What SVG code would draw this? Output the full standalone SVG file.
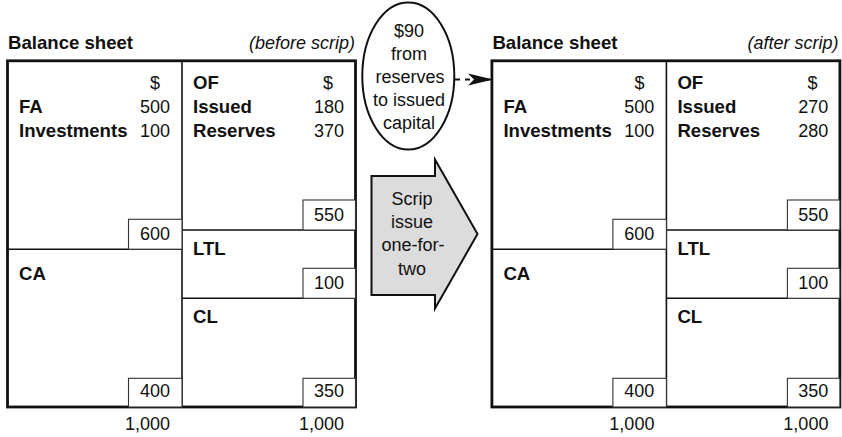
<svg xmlns="http://www.w3.org/2000/svg" width="842" height="437" viewBox="0 0 842 437">
<style>
text{font-family:"Liberation Sans",Arial,Helvetica,sans-serif;font-size:18px;fill:#111}
.b{font-weight:bold;font-size:18.6px}
.i{font-style:italic}
.r{text-anchor:end}
.m{text-anchor:middle}
.outer{fill:#fff;stroke:#111;stroke-width:2.8}
.div{stroke:#111;stroke-width:1.6;fill:none}
.box{fill:#fff;stroke:#333;stroke-width:1.1}
.conn{stroke:#111;stroke-width:2;fill:none;stroke-dasharray:5 5}
</style>
<defs>
<marker id="ah" markerUnits="userSpaceOnUse" markerWidth="26" markerHeight="14" refX="25" refY="7" orient="auto">
<path d="M0,1 L25,7 L0,13 L6,7 z" fill="#111"/>
</marker>
<g id="sheet">
<rect class="outer" x="7.5" y="60.8" width="348" height="346.2"/>
<line class="div" x1="182" y1="60.8" x2="182" y2="407"/>
<line class="div" x1="7.5" y1="249.2" x2="182" y2="249.2"/>
<line class="div" x1="182" y1="230" x2="355.5" y2="230"/>
<line class="div" x1="182" y1="298.3" x2="355.5" y2="298.3"/>
<rect class="box" x="128.5" y="219.3" width="53.5" height="29.9"/>
<rect class="box" x="303" y="200" width="52.5" height="30"/>
<rect class="box" x="303" y="268.3" width="52.5" height="30"/>
<rect class="box" x="128.5" y="378.3" width="53.5" height="28.7"/>
<rect class="box" x="303" y="378.3" width="52.5" height="28.7"/>
<text class="b" x="8" y="49">Balance sheet</text>
<text class="m" x="155" y="89">$</text>
<text class="b" x="19" y="113">FA</text>
<text class="r" x="170" y="113">500</text>
<text class="b" x="19" y="137">Investments</text>
<text class="r" x="170" y="137">100</text>
<text class="b" x="193" y="89">OF</text>
<text class="m" x="328" y="89">$</text>
<text class="b" x="193" y="113">Issued</text>
<text class="b" x="193" y="137">Reserves</text>
<text class="r" x="170" y="240">600</text>
<text class="r" x="344" y="221">550</text>
<text class="b" x="193" y="255">LTL</text>
<text class="r" x="344" y="289">100</text>
<text class="b" x="19" y="280">CA</text>
<text class="b" x="193" y="323">CL</text>
<text class="r" x="170" y="397">400</text>
<text class="r" x="344" y="397">350</text>
<text class="r" x="170" y="430">1,000</text>
<text class="r" x="344" y="430">1,000</text>
</g>
</defs>
<g id="sheet-before">
<use href="#sheet"/>
<text class="i r" x="355" y="49">(before scrip)</text>
<text class="r" x="344" y="113">180</text>
<text class="r" x="344" y="137">370</text>
</g>
<g id="sheet-after" transform="translate(484.4,0)">
<use href="#sheet"/>
<text class="i r" x="354" y="49">(after scrip)</text>
<text class="r" x="344" y="113">270</text>
<text class="r" x="344" y="137">280</text>
</g>
<g id="transfer-note">
<ellipse cx="408.3" cy="76" rx="46" ry="73.5" fill="#fff" stroke="#111" stroke-width="2"/>
<text class="m" x="409" y="37">$90</text>
<text class="m" x="409" y="60">from</text>
<text class="m" x="410" y="83">reserves</text>
<text class="m" x="409" y="106">to issued</text>
<text class="m" x="409" y="129">capital</text>
</g>
<g id="scrip-arrow">
<path d="M371.5,176 L435,176 L435,159.5 L477.5,234 L435,308.5 L435,295 L371.5,295 Z" fill="#dcdcdc" stroke="#111" stroke-width="2"/>
<text class="m" x="412" y="205">Scrip</text>
<text class="m" x="412" y="228">issue</text>
<text class="m" x="413" y="251">one-for-</text>
<text class="m" x="412" y="275">two</text>
</g>
<g id="connectors">
<line class="conn" x1="455" y1="79.5" x2="493" y2="79.5" marker-end="url(#ah)"/>
</g>
</svg>
